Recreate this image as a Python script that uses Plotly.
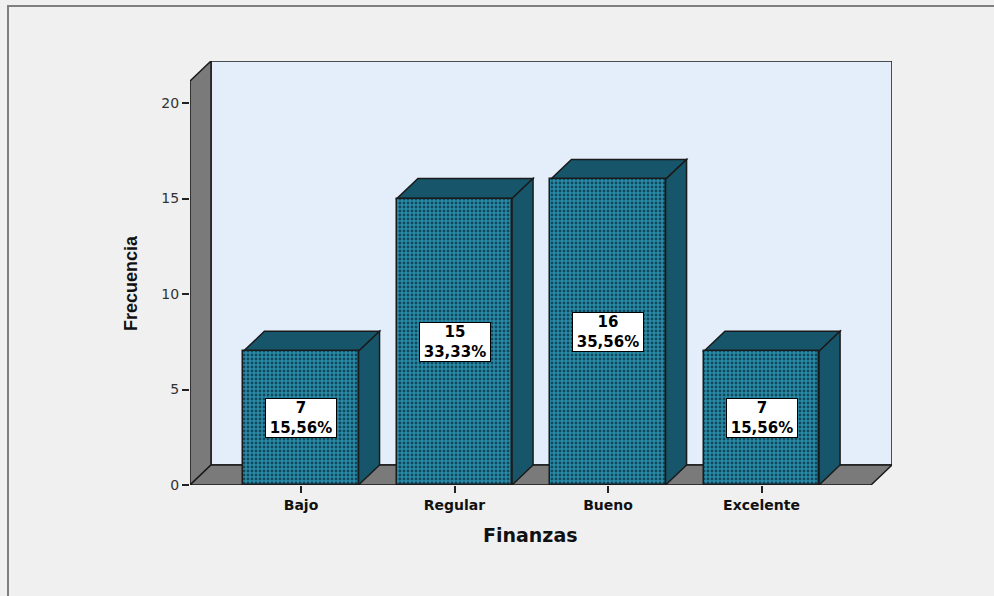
import plotly.graph_objects as go

# Frecuencias por nivel de finanzas
categorias = ["Bajo", "Regular", "Bueno", "Excelente"]
frecuencias = [7, 15, 16, 7]
porcentajes = [15.56, 33.33, 35.56, 15.56]
y_ticks = [0, 5, 10, 15, 20]

# Plot-area geometry (pixels) and axis ranges
W, H = 994, 596
L, R, T, B = 190, 102, 61, 111
plot_w, plot_h = W - L - R, H - T - B
x_min, x_max = -0.723, 3.850
y_min, y_max = 0.0, 22.2
px_x = plot_w / (x_max - x_min)
px_y = plot_h / (y_max - y_min)

# Oblique depth of the 3D effect, in pixels -> data units
DX = 21 / px_x
DY = 20 / px_y
bar_w = 0.75

FRONT = "#2A8BA9"
DOTS = "#10495B"
DARK = "#17566A"
GRAY = "#7A7A7A"
WALL = "#E3EEFA"
EDGE = "#1A1A1A"

xs = list(range(len(categorias)))


def poly(points):
    return "M " + " L ".join(f"{x},{y}" for x, y in points) + " Z"


shapes = []
# Back wall
shapes.append(dict(type="path", layer="below", xref="x", yref="y",
                   path=poly([(x_min + DX, DY), (x_max, DY), (x_max, y_max), (x_min + DX, y_max)]),
                   fillcolor=WALL, line=dict(color=EDGE, width=1.5)))
# Left side wall
shapes.append(dict(type="path", layer="below", xref="x", yref="y",
                   path=poly([(x_min, 0), (x_min, y_max - DY), (x_min + DX, y_max), (x_min + DX, DY)]),
                   fillcolor=GRAY, line=dict(color=EDGE, width=1.5)))
# Floor
shapes.append(dict(type="path", layer="below", xref="x", yref="y",
                   path=poly([(x_min, 0), (x_max - DX, 0), (x_max, DY), (x_min + DX, DY)]),
                   fillcolor=GRAY, line=dict(color=EDGE, width=1.5)))

# Top and side faces of every bar
for x, v in zip(xs, frecuencias):
    x0, x1 = x - bar_w / 2, x + bar_w / 2
    shapes.append(dict(type="path", layer="below", xref="x", yref="y",
                       path=poly([(x0, v), (x1, v), (x1 + DX, v + DY), (x0 + DX, v + DY)]),
                       fillcolor=DARK, line=dict(color=EDGE, width=1.5)))
    shapes.append(dict(type="path", layer="below", xref="x", yref="y",
                       path=poly([(x1, 0), (x1 + DX, DY), (x1 + DX, v + DY), (x1, v)]),
                       fillcolor=DARK, line=dict(color=EDGE, width=1.5)))

# Outer chart frame
shapes.append(dict(type="rect", layer="below", xref="paper", yref="paper",
                   x0=(8 - L) / plot_w, x1=(W + 10 - L) / plot_w,
                   y0=-(H + 10 - T - plot_h) / plot_h, y1=(T + plot_h - 6) / plot_h,
                   fillcolor="rgba(0,0,0,0)", line=dict(color="#7F7F7F", width=2)))

fig = go.Figure()
fig.add_trace(go.Bar(
    x=xs, y=frecuencias, width=bar_w,
    marker=dict(color=FRONT, opacity=1, line=dict(color=EDGE, width=1.5),
                pattern=dict(shape=".", fgcolor=DOTS, fgopacity=1, size=4,
                             solidity=0.4, fillmode="overlay")),
    hoverinfo="skip", showlegend=False,
))

annotations = []
for x, v, p in zip(xs, frecuencias, porcentajes):
    pct = f"{p:.2f}".replace(".", ",")
    annotations.append(dict(
        x=x, y=v / 2, xref="x", yref="y", showarrow=False,
        text=f"<b>{v}</b><br><b>{pct}%</b>",
        font=dict(family="DejaVu Sans", size=15, color="#000"),
        bgcolor="#FFFFFF", bordercolor="#000", borderwidth=1, borderpad=1,
        width=68, height=36, align="center",
    ))

annotations.append(dict(
    x=(530 - L) / plot_w, y=-(548 - T - plot_h) / plot_h, xref="paper", yref="paper",
    text="<b>Finanzas</b>", showarrow=False,
    font=dict(family="DejaVu Sans", size=19, color="#111"),
))
annotations.append(dict(
    x=(119 - L) / plot_w, y=(T + plot_h - 283) / plot_h, xref="paper", yref="paper",
    text="<b>Frecuencia</b>", showarrow=False, textangle=-90,
    font=dict(family="Liberation Sans", size=18, color="#111"),
))

fig.update_layout(
    width=W, height=H,
    margin=dict(l=L, r=R, t=T, b=B, pad=0),
    paper_bgcolor="#F0F0F0", plot_bgcolor="rgba(0,0,0,0)",
    shapes=shapes, annotations=annotations,
    bargap=0,
    xaxis=dict(range=[x_min, x_max], tickvals=xs, ticktext=[f"<b>{c}</b>" for c in categorias],
               showgrid=False, zeroline=False, showline=False,
               ticks="outside", ticklen=7, tickcolor="#222", tickwidth=1.5,
               tickfont=dict(family="DejaVu Sans", size=14, color="#111")),
    yaxis=dict(range=[y_min, y_max], tickvals=y_ticks,
               showgrid=False, zeroline=False, showline=False,
               ticks="outside", ticklen=7, tickcolor="#222", tickwidth=1.5,
               tickfont=dict(family="DejaVu Sans", size=14, color="#333")),
)

fig.write_html("out.html")
